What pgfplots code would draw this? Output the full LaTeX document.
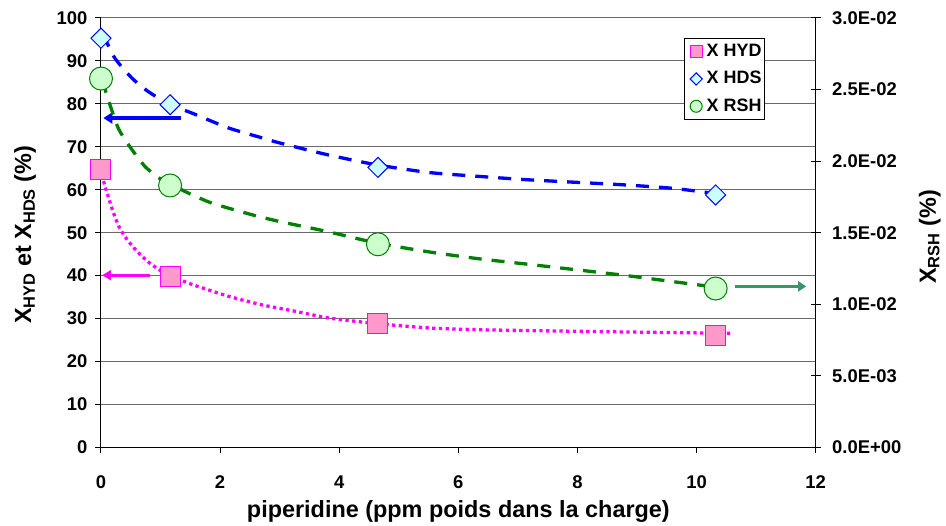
\documentclass[border=0pt]{standalone}
\usepackage{fontspec}
\setmainfont{Liberation Sans}
\usepackage{pgfplots}
\pgfplotsset{compat=1.18}
\usetikzlibrary{arrows.meta}
\definecolor{hydfill}{HTML}{FF99CC}
\definecolor{hydline}{HTML}{FF00FF}
\definecolor{hdsfill}{HTML}{CCFFFF}
\definecolor{hdsline}{HTML}{0000FF}
\definecolor{rshfill}{HTML}{CCFFCC}
\definecolor{rshline}{HTML}{008000}
\definecolor{arrowgreen}{HTML}{339966}
\definecolor{gridc}{HTML}{6A6A6A}
\pgfplotsset{mylegimg/.style={legend image code/.code={\path (0bp,0bp); \draw[##1] plot coordinates {(10bp,0bp)}; \path (18bp,0bp);}}}
\begin{document}
\begin{tikzpicture}
\useasboundingbox (-101bp,-78.3bp) rectangle (845bp,447.4bp);
\pgfplotsset{
  common/.style={
    at={(0,0)}, anchor=south west,
    scale only axis, width=714.7bp, height=429.4bp,
    xmin=0, xmax=12,
    /pgf/number format/assume math mode=true,
    ticklabel style={font=\fontsize{18.5}{20}\selectfont\bfseries},
    label style={font=\fontsize{23.5}{26}\selectfont\bfseries},
    axis line style={black, line width=1bp},
    tick style={black, line width=1bp},
  }
}
\begin{axis}[common,
  ymin=0, ymax=100,
  xtick={0,2,...,12}, ytick={0,10,...,100},
  axis x line*=bottom, axis y line*=left,
  ymajorgrids, grid style={gridc, line width=1bp},
  tick align=outside, major tick length=6bp,
  xticklabel style={yshift=-19bp},
  yticklabel style={xshift=-4bp},
  xlabel={piperidine (ppm poids dans la charge)},
  ylabel={X\textsubscript{HYD} et X\textsubscript{HDS} (\%)},
  xlabel style={at={(axis description cs:0.5,0)}, anchor=center, yshift=-64bp},
  ylabel style={at={(axis description cs:0,0.495)}, anchor=center, yshift=76bp},
]
% markers
\addplot[only marks, mark=square*, mark size=10bp, mark options={fill=hydfill, draw=hydline, line width=1bp}]
  coordinates {(0,64.7) (1.16,39.8) (4.65,28.8) (10.32,26.0)};
\addplot[only marks, mark=square*, mark size=7.1bp, mark options={rotate=45, fill=hdsfill, draw=hdsline, line width=1bp}]
  coordinates {(0,95.3) (1.16,79.8) (4.65,65.2) (10.32,58.8)};
% trend lines
\addplot[hydline, line width=3.3bp, dash pattern=on 3.3bp off 3.4bp, smooth, tension=0.4]
  coordinates {(0.01,63.5) (0.095,59.6) (0.21,54.6) (0.32,50.9) (0.46,48.0) (0.63,45.3) (0.82,42.9) (1.02,41.0) (1.24,39.5) (1.58,37.7) (2.14,35.2) (2.70,33.2) (3.26,31.7) (3.84,30.1) (4.65,28.8) (5.52,27.8) (6.36,27.4) (7.2,27.2) (8.71,26.9) (10.39,26.6) (10.61,26.5)};
\addplot[hdsline, line width=3.3bp, dash pattern=on 13bp off 10bp, smooth, tension=0.4]
  coordinates {(0.04,96.1) (0.23,90.7) (0.52,86.0) (0.79,82.9) (1.16,79.8) (1.52,77.9) (2.14,74.4) (2.70,72.1) (3.0,70.9) (3.79,68.2) (4.63,65.8) (5.52,64.0) (6.36,63.1) (7.2,62.3) (8.71,61.2) (9.55,60.4) (10.05,59.6) (10.27,59.2)};
% arrows
\draw[hdsline, line width=3.3bp, -{Triangle[length=9bp,width=11bp]}] (axis cs:1.34,76.7) -- (axis cs:0.04,76.7);
\draw[hydline, line width=2.7bp, -{Triangle[length=9bp,width=10bp]}] (axis cs:0.82,40.1) -- (axis cs:0.02,40.1);
\end{axis}
\begin{axis}[common,
  ymin=0, ymax=0.03,
  axis y line*=right, axis x line=none,
  scaled y ticks=false,
  ytick={0,0.005,0.01,0.015,0.02,0.025,0.03},
  yticklabels={0.0E+00,5.0E-03,1.0E-02,1.5E-02,2.0E-02,2.5E-02,3.0E-02},
  yticklabel style={xshift=8bp},
  tick align=center, major tick length=10bp,
  ylabel={X\textsubscript{RSH} (\%)},
  ylabel style={at={(axis description cs:1,0.49)}, anchor=center, yshift=-114bp},
  legend style={at={(axis description cs:0.816,0.953)}, anchor=north west,
    draw=black, line width=1bp, fill=white,
    font=\fontsize{18}{20}\selectfont\bfseries,
    inner xsep=1bp, inner ysep=3bp, row sep=7.3bp,
    nodes={inner sep=2bp, text height=13bp, text depth=3bp}},
  legend cell align=left,
]
\addlegendimage{only marks, mark=square*, mark size=6bp, mark options={fill=hydfill, draw=hydline, line width=1bp}, mylegimg}
\addlegendimage{only marks, mark=square*, mark size=4.3bp, mark options={rotate=45, fill=hdsfill, draw=hdsline, line width=1bp}, mylegimg}
\addlegendimage{only marks, mark=*, mark size=6bp, mark options={fill=rshfill, draw=rshline, line width=1bp}, mylegimg}
\addplot[forget plot, only marks, mark=*, mark size=11.5bp, mark options={fill=rshfill, draw=rshline, line width=1bp}]
  coordinates {(0,0.02577) (1.16,0.0183) (4.65,0.01419) (10.32,0.0111)};
\addplot[forget plot, rshline, line width=3.3bp, dash pattern=on 13bp off 10bp, smooth, tension=0.4]
  coordinates {(0.02,0.02565) (0.07,0.02499) (0.15,0.02394) (0.29,0.02230) (0.46,0.02115) (0.74,0.01962) (1.02,0.01869) (1.19,0.01839) (1.41,0.01788) (1.86,0.01707) (2.53,0.01626) (3.0,0.01578) (3.79,0.01509) (4.63,0.01428) (5.52,0.01365) (6.36,0.01317) (7.2,0.01278) (8.71,0.01206) (9.55,0.01161) (10.22,0.01125)};
\draw[arrowgreen, line width=3bp, -{Triangle[length=8bp,width=10bp]}] (axis cs:10.64,0.01125) -- (axis cs:11.84,0.01125);
\legend{X HYD, X HDS, X RSH}
\end{axis}
\end{tikzpicture}
\end{document}
